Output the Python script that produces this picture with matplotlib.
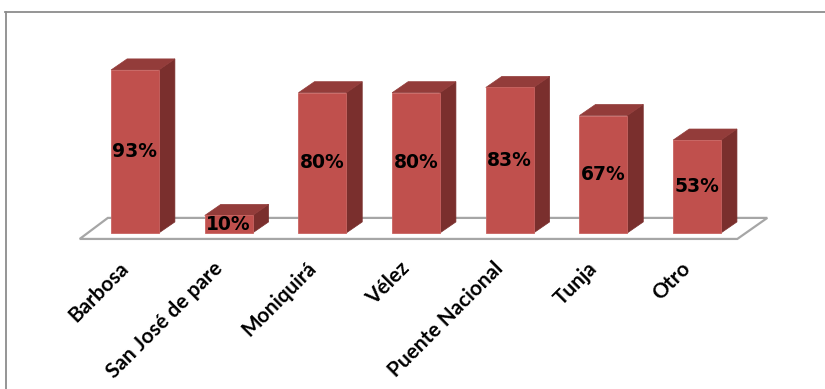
import matplotlib
matplotlib.use("Agg")
import matplotlib.pyplot as plt
from matplotlib.patches import Polygon, Rectangle
from matplotlib.lines import Line2D

categories = ["Barbosa", "San José de pare", "Moniquirá", "Vélez",
              "Puente Nacional", "Tunja", "Otro"]
values = [93, 10, 80, 80, 83, 67, 53]

FRONT = "#c0504d"
TOP = "#933c3a"
SIDE = "#7a2f2d"

fig = plt.figure(figsize=(8.25, 3.89), dpi=100)
ax = fig.add_axes([0, 0, 1, 1])
# pixel mapping: category i -> 135 + 93.67*i px, value v -> 233 - 1.753*v px (from top)
ax.set_xlim(-1.441, 7.366)
ax.set_ylim(-89.0, 132.9)
ax.axis("off")

w = 0.51
dx, dy = 0.171, 6.3
n = len(categories)

# floor
floor = Polygon([(-0.59, -3.4), (n - 1 + 0.43, -3.4),
                 (n - 1 + 0.75, 8.6), (-0.29, 8.6)],
                closed=True, facecolor="white", edgecolor="#a6a6a6", lw=1.6, zorder=1)
ax.add_patch(floor)

for i, v in enumerate(values):
    x0, x1 = i - w / 2, i + w / 2
    ax.add_patch(Polygon([(x1, 0), (x1 + dx, dy), (x1 + dx, v + dy), (x1, v)],
                         closed=True, facecolor=SIDE, edgecolor=SIDE, lw=0.5, zorder=2))
    ax.add_patch(Polygon([(x0, v), (x1, v), (x1 + dx, v + dy), (x0 + dx, v + dy)],
                         closed=True, facecolor=TOP, edgecolor=TOP, lw=0.5, zorder=2))
    ax.add_patch(Rectangle((x0, 0), w, v, facecolor=FRONT, edgecolor="#c96461",
                           lw=0.6, zorder=3))
    ax.text(i, v / 2, f"{v}%", ha="center", va="center", fontsize=13.5,
            fontweight="bold", family="DejaVu Sans", color="black", zorder=4)

for i, c in enumerate(categories):
    ax.text(i - 0.1, -18.5, c, rotation=45, rotation_mode="anchor",
            ha="right", va="center", fontsize=15, fontweight="bold",
            family="Lato", color="black")

# chart border (top and left)
fig.add_artist(Line2D([5 / 825, 1], [1 - 12 / 389, 1 - 12 / 389],
                      transform=fig.transFigure, color="#8c8c8c", lw=1.3))
fig.add_artist(Line2D([6 / 825, 6 / 825], [0, 1 - 12 / 389],
                      transform=fig.transFigure, color="#8c8c8c", lw=1.3))

fig.savefig("out.png", dpi=100)
